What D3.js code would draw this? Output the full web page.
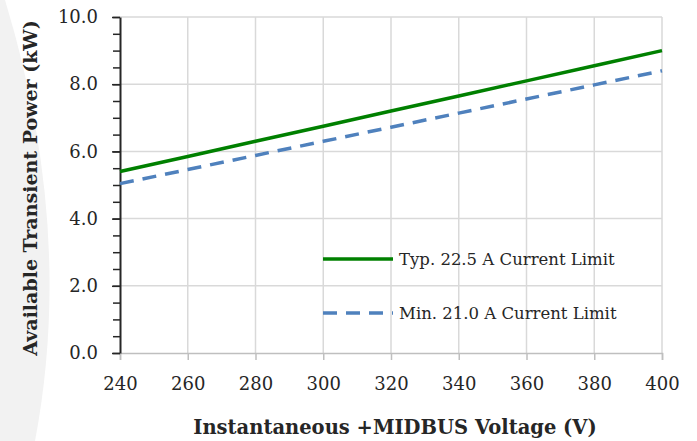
<!DOCTYPE html>
<html>
<head>
<meta charset="utf-8">
<script src="https://cdn.jsdelivr.net/npm/d3@7"></script>
<style>
  html, body { margin: 0; padding: 0; background: #fff; }
  svg { display: block; font-family: "DejaVu Serif", "Liberation Serif", serif; }
</style>
</head>
<body>
<svg id="chart" width="697" height="441"></svg>
<script>
// Bus voltage (V) and the transient power available at each current limit (kW)
const voltages = [240, 260, 280, 300, 320, 340, 360, 380, 400];
const typPower = [5.40, 5.85, 6.30, 6.75, 7.20, 7.65, 8.10, 8.55, 9.00];
const minPower = [5.04, 5.46, 5.88, 6.30, 6.72, 7.14, 7.56, 7.98, 8.40];
const seriesNames = ["Typ. 22.5 A Current Limit", "Min. 21.0 A Current Limit"];
const xTicks = [240, 260, 280, 300, 320, 340, 360, 380, 400];
const yTicks = [0, 2, 4, 6, 8, 10];
const yMinorTicks = d3.range(0, 10.01, 0.5);

const svg = d3.select("#chart");
const W = 697, H = 441;
const m = { left: 120, right: 35, top: 17, bottom: 88 };
const fontFamily = "DejaVu Serif, Liberation Serif, serif";
const textColor = "#262626";

// soft grey backdrop curve along the left edge
svg.append("path")
  .attr("d", "M0,0 L5,0 Q75,230 35,441 L0,441 Z")
  .attr("fill", "#f2f2f2");

const x = d3.scaleLinear().domain([240, 400]).range([m.left, W - m.right]);
const y = d3.scaleLinear().domain([0, 10]).range([H - m.bottom, m.top]);

// gridlines
const grid = svg.append("g").attr("stroke", "#d9d9d9").attr("stroke-width", 1.5);
grid.selectAll("line.h").data(yTicks.filter(d => d > 0)).join("line")
  .attr("x1", x(240)).attr("x2", x(400))
  .attr("y1", d => y(d)).attr("y2", d => y(d));
grid.selectAll("line.v").data(xTicks.filter(d => d > 240)).join("line")
  .attr("y1", y(0)).attr("y2", y(10))
  .attr("x1", d => x(d)).attr("x2", d => x(d));

// x axis
const xAxis = svg.append("g")
  .attr("transform", `translate(0,${y(0)})`)
  .call(d3.axisBottom(x).tickValues(xTicks).tickSize(7).tickPadding(17).tickFormat(d3.format("d")));
xAxis.select(".domain").attr("stroke", "#bfbfbf").attr("stroke-width", 1.5);
xAxis.selectAll(".tick line").attr("stroke", "#bfbfbf").attr("stroke-width", 1.5);
xAxis.selectAll("text").attr("font-size", 18).attr("fill", textColor)
  .attr("font-family", fontFamily);

// y axis with minor ticks
const yAxisMinor = svg.append("g")
  .attr("transform", `translate(${x(240)},0)`)
  .call(d3.axisLeft(y).tickValues(yMinorTicks).tickSize(7).tickFormat(""));
yAxisMinor.select(".domain").remove();
yAxisMinor.selectAll(".tick line").attr("stroke", "#262626").attr("stroke-width", 1.5);

const yAxis = svg.append("g")
  .attr("transform", `translate(${x(240)},0)`)
  .call(d3.axisLeft(y).tickValues(yTicks).tickSize(8).tickSizeOuter(0).tickPadding(14).tickFormat(d3.format(".1f")));
yAxis.select(".domain").attr("stroke", "#262626").attr("stroke-width", 2);
yAxis.selectAll(".tick line").attr("stroke", "#262626").attr("stroke-width", 1.5);
yAxis.selectAll("text").attr("font-size", 18).attr("fill", textColor)
  .attr("font-family", fontFamily);

// series lines
const line = d3.line().x((d, i) => x(voltages[i])).y(d => y(d));
svg.append("path").datum(minPower)
  .attr("d", line).attr("fill", "none")
  .attr("stroke", "#4f81bd").attr("stroke-width", 3.5)
  .attr("stroke-dasharray", "14,9");
svg.append("path").datum(typPower)
  .attr("d", line).attr("fill", "none")
  .attr("stroke", "#008000").attr("stroke-width", 3.5);

// legend
const legend = svg.append("g");
const legendItems = [
  { name: seriesNames[0], color: "#008000", dash: null, y: 259 },
  { name: seriesNames[1], color: "#4f81bd", dash: "14,9", y: 313 }
];
legendItems.forEach(it => {
  legend.append("line")
    .attr("x1", 323).attr("x2", 393).attr("y1", it.y).attr("y2", it.y)
    .attr("stroke", it.color).attr("stroke-width", 3.5)
    .attr("stroke-dasharray", it.dash);
  legend.append("text")
    .attr("x", 399).attr("y", it.y).attr("dy", "0.35em")
    .attr("font-size", 16.5).attr("fill", textColor)
    .text(it.name);
});

// axis titles
svg.append("text")
  .attr("x", 395).attr("y", 427).attr("dy", "0.35em")
  .attr("text-anchor", "middle").attr("font-weight", "bold")
  .attr("font-size", 19.5).attr("fill", textColor)
  .text("Instantaneous +MIDBUS Voltage (V)");
svg.append("text")
  .attr("transform", "translate(30,188) rotate(-90)")
  .attr("dy", "0.35em")
  .attr("text-anchor", "middle").attr("font-weight", "bold")
  .attr("font-size", 19).attr("fill", textColor)
  .text("Available Transient Power (kW)");
</script>
</body>
</html>
